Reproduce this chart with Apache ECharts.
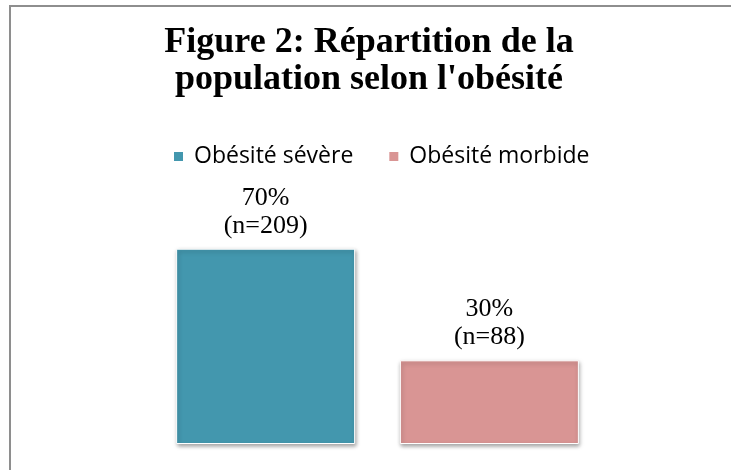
<!DOCTYPE html>
<html>
<head>
<meta charset="utf-8">
<script src="https://cdn.jsdelivr.net/npm/echarts@6/dist/echarts.min.js"></script>
<style>
  html, body { margin: 0; padding: 0; background: #fff; }
  #wrap { position: relative; width: 731px; height: 470px; }
  #main { position: absolute; left: 0; top: 0; width: 731px; height: 470px; }
  #frame {
    position: absolute; left: 9px; top: 5px; right: 0; bottom: 0;
    border-left: 2px solid #8e8e8e; border-top: 2px solid #8e8e8e;
    pointer-events: none;
  }
</style>
</head>
<body>
<div id="wrap">
  <div id="main"></div>
  <div id="frame"></div>
</div>
<script>
// données
var seriesNames = ["Obésité sévère", "Obésité morbide"];
var percents = [70, 30];
var counts = [209, 88];
var colors = ["#4397ae", "#d99594"];

var serif = "'Liberation Serif', 'Times New Roman', serif";
var sans = "'Open Sans', 'Noto Sans', sans-serif";

var series = seriesNames.map(function(name, i) {
  return {
    name: name,
    type: "bar",
    barWidth: 179,
    barGap: "25%",
    data: [percents[i]],
    itemStyle: {
      color: colors[i],
      borderColor: "#ffffff",
      borderWidth: 1,
      shadowColor: "rgba(0,0,0,0.35)",
      shadowBlur: 4,
      shadowOffsetX: 1,
      shadowOffsetY: 2
    },
    label: {
      show: true,
      position: "top",
      distance: 9,
      formatter: function() {
        return percents[i] + "%\n(n=" + counts[i] + ")";
      },
      fontFamily: serif,
      fontSize: 26,
      lineHeight: 28,
      color: "#000"
    }
  };
});

var myChart = echarts.init(document.getElementById("main"));
var option = {
  animation: false,
  color: colors,
  title: {
    text: "Figure 2: Répartition de la\npopulation selon l'obésité",
    left: 364,
    textAlign: "center",
    top: 19,
    textStyle: {
      fontFamily: serif,
      fontWeight: "bold",
      fontSize: 36,
      lineHeight: 37,
      color: "#000"
    }
  },
  legend: {
    data: seriesNames,
    left: 172,
    top: 145,
    padding: 0,
    icon: "rect",
    itemWidth: 11,
    itemHeight: 11,
    itemGap: 34,
    textStyle: {
      fontFamily: sans,
      fontSize: 23,
      color: "#000",
      padding: [0, 0, 0, 5]
    }
  },
  grid: {
    left: 150,
    right: 126,
    top: 165,
    bottom: 26
  },
  xAxis: {
    type: "category",
    data: [""],
    show: false
  },
  yAxis: {
    type: "value",
    min: 0,
    max: 100,
    show: false
  },
  series: series
};
myChart.setOption(option);
</script>
</body>
</html>
